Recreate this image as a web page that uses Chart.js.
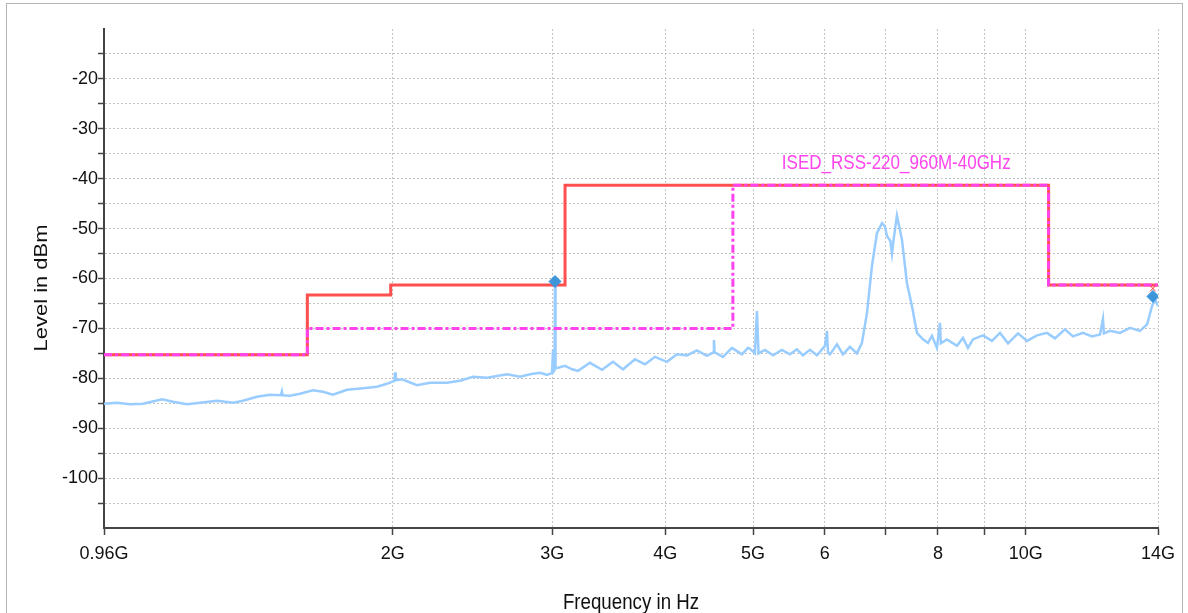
<!DOCTYPE html>
<html>
<head>
<meta charset="utf-8">
<title>Spurious emission scan</title>
<script src="https://cdn.jsdelivr.net/npm/chart.js@4"></script>
<style>
  body { margin: 0; background: #fff; }
  #wrap { position: relative; width: 1188px; height: 613px; overflow: hidden; }
  #frame { position: absolute; left: 6px; top: 3px; width: 1177px; height: 660px; border: 1px solid #b4b4b4; box-sizing: border-box; }
  #emissionChart { position: absolute; left: 0; top: 0; }
</style>
</head>
<body>
<div id="wrap">
  <div id="frame"></div>
  <canvas id="emissionChart" width="1188" height="613"></canvas>
</div>
<script>
const FONT = "'Liberation Sans', Arial, sans-serif";

// axis ticks (GHz)
const xTickValues = [0.96, 2, 3, 4, 5, 6, 7, 8, 9, 10, 14];
const xTickLabels = ['0.96G', '2G', '3G', '4G', '5G', '6', '', '8', '', '10G', '14G'];

const traceFreq = [
  0.96, 0.992, 1.026, 1.06, 1.113, 1.144, 1.186, 1.225, 1.28, 1.333,
  1.367, 1.416, 1.464, 1.505, 1.509, 1.512, 1.54, 1.58, 1.633, 1.675,
  1.718, 1.781, 1.855, 1.922, 1.971, 2.008, 2.012, 2.016, 2.048, 2.128,
  2.199, 2.296, 2.373, 2.453, 2.542, 2.675, 2.765, 2.836, 2.909, 2.961,
  2.999, 3.007, 3.012, 3.018, 3.022, 3.026, 3.045, 3.1, 3.156, 3.204,
  3.303, 3.406, 3.502, 3.592, 3.704, 3.799, 3.897, 4.017, 4.121, 4.227,
  4.335, 4.447, 4.52, 4.527, 4.534, 4.632, 4.739, 4.861, 4.936, 4.961,
  5.024, 5.05, 5.07, 5.153, 5.26, 5.381, 5.492, 5.59, 5.676, 5.778,
  5.882, 6.003, 6.034, 6.05, 6.08, 6.189, 6.284, 6.397, 6.512, 6.595,
  6.68, 6.765, 6.852, 6.939, 6.99, 7.028, 7.09, 7.118, 7.15, 7.209,
  7.301, 7.394, 7.489, 7.585, 7.701, 7.8, 7.88, 7.98, 8.042, 8.06,
  8.186, 8.397, 8.526, 8.635, 8.745, 8.971, 9.178, 9.369, 9.561, 9.807,
  10.034, 10.292, 10.557, 10.773, 11.05, 11.278, 11.568, 11.836, 12.08, 12.172,
  12.2, 12.391, 12.709, 13.036, 13.371, 13.618, 13.791, 13.897, 14.0
];
const traceLevel = [
  -85.1, -84.9, -85.2, -85.1, -84.2, -84.7, -85.2, -84.9, -84.5, -84.9,
  -84.5, -83.7, -83.3, -83.4, -82.6, -83.4, -83.5, -83.1, -82.4, -82.7,
  -83.3, -82.3, -82.0, -81.7, -81.1, -80.5, -78.8, -80.4, -80.2, -81.4,
  -80.9, -80.9, -80.5, -79.7, -79.9, -79.2, -79.7, -79.2, -78.9, -79.3,
  -78.9, -74.2, -78.6, -78.4, -60.6, -78.0, -77.9, -77.5, -78.2, -78.5,
  -76.9, -78.3, -76.7, -78.2, -76.2, -77.2, -75.7, -76.7, -75.2, -75.4,
  -74.4, -75.5, -74.8, -72.3, -74.8, -75.7, -73.9, -75.2, -73.9, -74.1,
  -75.0, -66.5, -75.0, -74.3, -75.4, -74.3, -75.2, -74.2, -75.4, -74.3,
  -75.4, -73.5, -70.5, -74.8, -75.2, -73.2, -75.2, -73.7, -75.0, -72.9,
  -66.9, -57.5, -50.9, -48.9, -49.5, -51.5, -52.5, -55.0, -52.0, -47.4,
  -52.2, -60.9, -65.5, -70.9, -72.2, -72.9, -71.5, -73.9, -68.9, -73.0,
  -72.2, -73.5, -71.9, -73.9, -72.2, -71.4, -72.5, -70.9, -73.0, -71.0,
  -72.5, -71.4, -70.9, -72.0, -70.2, -71.6, -70.9, -71.6, -71.2, -68.1,
  -71.0, -70.5, -70.9, -69.9, -70.5, -69.2, -65.5, -64.2, -65.5
];

// limit lines (each level holds until the next frequency)
const limitFreq = [0.96, 1.61, 1.99, 3.1, 10.6, 14];
const limitLevel = [-75.3, -63.3, -61.3, -41.3, -61.3, -61.3];
const ruleFreq = [0.96, 1.61, 4.75, 10.6, 14];
const ruleLevel = [-75.3, -70, -41.3, -61.3, -61.3];
const ruleName = 'ISED_RSS-220_960M-40GHz';
const ruleLabelFreq = 5.38;

// peak markers
const markerFreq = [3.022, 13.82];
const markerLevel = [-60.6, -63.6];
const checkFreq = [13.82];
const checkLevel = [-62];

const zip = (xs, ys) => xs.map((x, i) => ({ x: x, y: ys[i] }));

// draw text squeezed/stretched along its baseline
function drawText(ctx, text, x, y, size, stretch, color, align, angle) {
  ctx.save();
  ctx.translate(x, y);
  if (angle) ctx.rotate(angle);
  ctx.scale(stretch, 1);
  ctx.font = size + 'px ' + FONT;
  ctx.fillStyle = color;
  ctx.textAlign = align;
  ctx.textBaseline = 'middle';
  ctx.fillText(text, 0, 0);
  ctx.restore();
}

const annotations = {
  id: 'annotations',
  afterDraw(chart) {
    const { ctx, scales: { x, y } } = chart;
    drawText(ctx, 'Frequency in Hz', (x.left + x.right) / 2, 603, 22, 0.85, '#111', 'center');
    drawText(ctx, 'Level in dBm', 42, 288, 18, 1.22, '#111', 'center', -Math.PI / 2);
    drawText(ctx, ruleName, x.getPixelForValue(ruleLabelFreq), y.getPixelForValue(-41.3) - 22,
      21, 0.81, '#ff44ee', 'left');
  }
};

const gridColor = '#c4c4c4';
const axisColor = '#444';

new Chart(document.getElementById('emissionChart'), {
  type: 'scatter',
  data: {
    datasets: [
      {
        label: 'Markers',
        data: zip(markerFreq, markerLevel),
        pointStyle: 'rectRot',
        pointRadius: 6,
        backgroundColor: '#3d95da',
        borderColor: '#3d95da',
        order: 0
      },
      {
        label: 'Limit check',
        data: zip(checkFreq, checkLevel),
        pointStyle: 'crossRot',
        pointRadius: 4,
        borderColor: '#ff3030',
        borderWidth: 1,
        order: 0
      },
      {
        label: ruleName,
        data: zip(ruleFreq, ruleLevel),
        showLine: true,
        stepped: 'before',
        borderColor: '#ff44ee',
        borderWidth: 3,
        borderDash: [8, 3, 3, 3],
        pointRadius: 0,
        order: 1
      },
      {
        label: 'Limit',
        data: zip(limitFreq, limitLevel),
        showLine: true,
        stepped: 'before',
        borderColor: '#ff5050',
        borderWidth: 3,
        pointRadius: 0,
        order: 2
      },
      {
        label: 'Peak',
        data: zip(traceFreq, traceLevel),
        showLine: true,
        borderColor: '#99ccff',
        borderWidth: 2.5,
        pointRadius: 0,
        order: 3
      }
    ]
  },
  options: {
    responsive: false,
    animation: false,
    events: [],
    layout: { padding: { left: 0, right: 30, top: 29, bottom: 0 } },
    plugins: {
      legend: { display: false },
      tooltip: { enabled: false }
    },
    scales: {
      x: {
        type: 'logarithmic',
        min: 0.96,
        max: 14,
        afterBuildTicks: s => { s.ticks = xTickValues.map(v => ({ value: v })); },
        afterFit: s => { s.height = 85; },
        ticks: {
          autoSkip: false,
          maxRotation: 0,
          padding: 8,
          color: '#111',
          font: { family: FONT, size: 18 },
          callback: (v, i) => xTickLabels[i]
        },
        grid: {
          color: c => (c.tick && c.tick.value === 0.96) ? 'transparent' : gridColor,
          lineWidth: 1,
          tickColor: axisColor,
          tickLength: 7,
          tickWidth: 1.5
        },
        border: { color: axisColor, width: 2, dash: [2, 2] }
      },
      y: {
        min: -110,
        max: -10,
        afterFit: s => { s.width = 104; },
        ticks: {
          stepSize: 5,
          autoSkip: false,
          padding: 0,
          color: '#111',
          font: { family: FONT, size: 18 },
          callback: v => (v % 10 === 0 && v > -110 && v < -10) ? String(v) : ''
        },
        grid: {
          color: c => (c.tick && (c.tick.value <= -110 || c.tick.value >= -10)) ? 'transparent' : gridColor,
          lineWidth: 1,
          tickColor: c => (c.tick && (c.tick.value <= -110 || c.tick.value >= -10)) ? 'transparent' : axisColor,
          tickLength: 6,
          tickWidth: 1.5
        },
        border: { color: axisColor, width: 2, dash: [2, 2] }
      }
    }
  },
  plugins: [annotations]
});
</script>
</body>
</html>
